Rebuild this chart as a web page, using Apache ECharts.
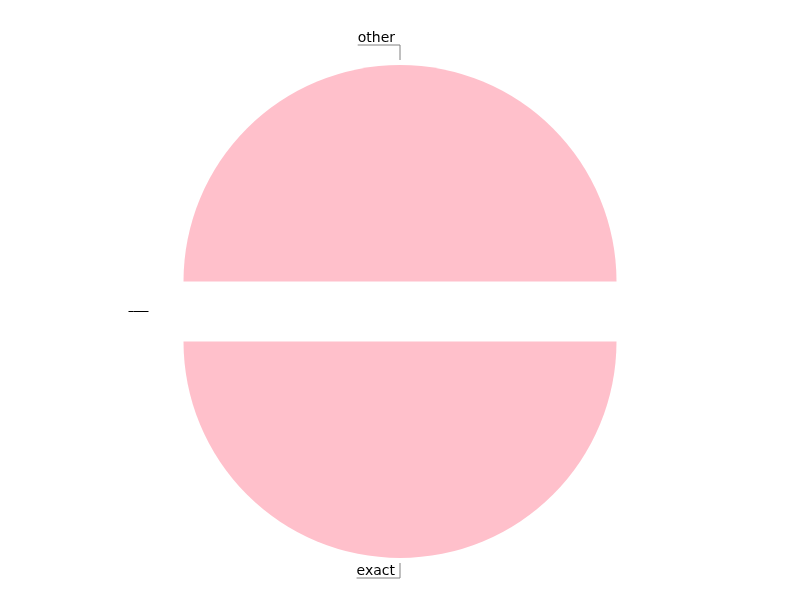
<!DOCTYPE html>
<html>
<head>
<meta charset="utf-8">
<script src="https://cdn.jsdelivr.net/npm/echarts@6/dist/echarts.min.js"></script>
<style>html,body{margin:0;padding:0;background:#fff}#c{width:800px;height:600px}</style>
</head>
<body>
<div id="c"></div>
<script>
const categories = ['exact', '', 'other'];
const values = [1, 0, 1];
const lineColors = ['#808080', '#000000', '#808080'];

const chart = echarts.init(document.getElementById('c'), null, {renderer: 'canvas'});
const data = categories.map((name, i) => ({
  name: name,
  value: values[i],
  selected: true,
  labelLine: {lineStyle: {color: lineColors[i]}}
}));
const GAP = 5;
chart.setOption({
  animation: false,
  series: [{
    type: 'pie',
    center: [400, 311.5],
    radius: 216.5,
    startAngle: 0,
    clockwise: true,
    selectedMode: 'multiple',
    selectedOffset: 30,
    itemStyle: {color: '#FFC0CB'},
    label: {color: '#000', fontSize: 14, fontFamily: 'DejaVu Sans'},
    labelLine: {length: 15, length2: 0, lineStyle: {width: 1}},
    emphasis: {disabled: true},
    data: data,
    labelLayout: function (params) {
      const p = params.labelLinePoints;
      if (!p) return {};
      let ux = p[1][0] - p[0][0], uy = p[1][1] - p[0][1];
      const len = Math.sqrt(ux * ux + uy * uy) || 1;
      ux /= len; uy /= len;
      const p0 = [p[0][0] + ux * GAP, p[0][1] + uy * GAP];
      const p1 = [p[1][0] + ux * GAP, p[1][1] + uy * GAP];
      const r = params.labelRect;
      const defAnchor = r.x >= p[1][0] ? r.x : r.x + r.width;
      const textRight = p1[0] - 5;
      const p2 = [textRight - r.width, p1[1]];
      return {
        dx: textRight - defAnchor,
        dy: uy * GAP,
        align: 'right',
        verticalAlign: 'bottom',
        labelLinePoints: [p0, p1, p2]
      };
    }
  }]
});
</script>
</body>
</html>
